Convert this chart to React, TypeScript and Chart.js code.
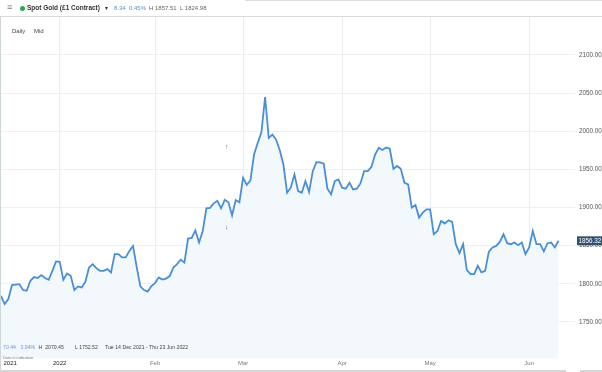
import React, { useEffect, useRef } from 'react';
import { Chart, registerables } from 'chart.js';

Chart.register(...registerables);

// Daily closes (6 sessions per week), Tue 14 Dec 2021 onwards
const prices = [
  1784.3, 1773.5, 1780.0, 1798.3, 1799.0, 1799.6, 1791.8, 1790.9, 1803.9, 1808.8,
  1807.5, 1811.4, 1807.5, 1805.2, 1817.0, 1829.3, 1828.7, 1805.2, 1813.6, 1810.5,
  1791.8, 1796.6, 1795.3, 1802.6, 1821.4, 1825.7, 1820.5, 1817.0, 1817.0, 1819.2,
  1814.9, 1838.8, 1838.8, 1834.5, 1834.5, 1843.1, 1849.6, 1821.8, 1796.6, 1791.8,
  1789.8, 1797.0, 1800.9, 1808.4, 1805.5, 1806.8, 1810.1, 1821.2, 1825.7, 1831.6,
  1827.7, 1859.3, 1860.1, 1869.9, 1854.1, 1869.2, 1898.9, 1899.5, 1905.4, 1908.7,
  1898.9, 1910.0, 1906.7, 1889.7, 1909.7, 1906.7, 1938.7, 1929.6, 1935.4, 1969.4,
  1984.7, 1998.5, 2044.8, 1991.2, 1995.5, 1989.0, 1975.0, 1956.3, 1919.4, 1925.9,
  1943.3, 1921.5, 1919.4, 1934.5, 1920.2, 1947.6, 1959.3, 1959.0, 1957.3, 1924.6,
  1917.2, 1934.5, 1936.7, 1925.9, 1924.6, 1932.4, 1923.7, 1924.6, 1931.5, 1947.6,
  1947.6, 1953.3, 1969.4, 1978.2, 1975.3, 1978.5, 1977.0, 1950.7, 1954.4, 1950.7,
  1932.4, 1930.2, 1899.8, 1903.2, 1886.7, 1893.3, 1897.6, 1897.6, 1864.9, 1869.2,
  1882.3, 1878.9, 1883.2, 1881.0, 1851.9, 1840.1, 1851.9, 1818.3, 1812.7, 1812.7,
  1823.5, 1814.9, 1817.0, 1841.8, 1847.6, 1849.6, 1854.9, 1864.9, 1853.2, 1851.9,
  1854.1, 1850.6, 1854.1, 1838.8, 1847.6, 1869.2, 1851.9, 1851.9, 1842.3, 1853.2,
  1854.1, 1847.6, 1856.32,
];

// session index at which each x-axis label sits
const xTickPositions = [2.5, 16, 42, 66, 93, 117, 144];
const xTickLabels = ['2021', '2022', 'Feb', 'Mar', 'Apr', 'May', 'Jun'];
const yTickValues = [1750, 1800, 1850, 1900, 1950, 2000, 2050, 2100];
const lastPrice = 1856.32;

const FONT = '"Liberation Sans", Arial, Helvetica, sans-serif';

const lastPricePlugin = {
  id: 'lastPriceBox',
  afterDraw(chart: any) {
    const ctx = chart.ctx;
    const y = chart.scales.y.getPixelForValue(lastPrice);
    const left = chart.chartArea.right + 2;
    ctx.save();
    ctx.fillStyle = '#33506f';
    ctx.fillRect(left, y - 4.5, chart.width - left, 9);
    ctx.fillStyle = '#ffffff';
    ctx.font = `6.3px ${FONT}`;
    ctx.textBaseline = 'middle';
    ctx.textAlign = 'left';
    ctx.fillText(lastPrice.toFixed(2), left + 1.5, y + 0.5);
    ctx.restore();
  },
};

const abs = (s: React.CSSProperties): React.CSSProperties => ({ position: 'absolute', ...s });

export default function App() {
  const ref = useRef<HTMLCanvasElement | null>(null);

  useEffect(() => {
    if (!ref.current) return;
    Chart.defaults.font.family = FONT;
    const chart = new Chart(ref.current, {
      type: 'line',
      data: {
        datasets: [
          {
            data: prices.map((v, i) => ({ x: i, y: v })),
            borderColor: '#4a8fd6',
            borderWidth: 1.8,
            backgroundColor: '#f3f8fd',
            fill: 'start',
            pointRadius: 0,
            tension: 0,
          },
        ],
      },
      options: {
        responsive: false,
        animation: false,
        events: [],
        layout: { padding: { top: 17, left: 1, right: 0, bottom: 4 } },
        plugins: { legend: { display: false }, tooltip: { enabled: false } },
        scales: {
          x: {
            type: 'linear',
            min: 0,
            max: 156.5,
            afterBuildTicks: (s: any) => {
              s.ticks = xTickPositions.map((v) => ({ value: v }));
            },
            ticks: {
              autoSkip: false,
              maxRotation: 0,
              padding: 1,
              font: { size: 6 },
              color: (c: any) => (c.index < 2 ? '#222222' : '#7a7a7a'),
              callback: (_v: any, i: number) => xTickLabels[i],
            },
            grid: {
              color: (c: any) => (c.index === 0 ? 'rgba(0,0,0,0)' : '#ececec'),
              drawTicks: false,
            },
            border: { display: false },
          },
          y: {
            position: 'right',
            min: 1701.7,
            max: 2149.6,
            afterBuildTicks: (s: any) => {
              s.ticks = yTickValues.map((v) => ({ value: v }));
            },
            afterFit: (s: any) => {
              s.width = 27;
            },
            ticks: {
              padding: 4,
              font: { size: 6.3 },
              color: '#555555',
              callback: (v: any) => Number(v).toFixed(2),
            },
            grid: { color: '#f0f0f0', drawTicks: false },
            border: { display: false },
          },
        },
      },
      plugins: [lastPricePlugin],
    } as any);
    return () => chart.destroy();
  }, []);

  const txt: React.CSSProperties = { fontFamily: FONT, whiteSpace: 'nowrap', lineHeight: 1 };

  return (
    <div style={abs({ left: 0, top: 0, width: 602, height: 372, background: '#ffffff', overflow: 'hidden' })}>
      <canvas ref={ref} width={602} height={372} style={abs({ left: 0, top: 0, width: 602, height: 372 })} />
      {/* header */}
      <div style={abs({ left: 245, top: 0, width: 357, height: 1, background: '#dedede' })} />
      <div style={abs({ left: 0, top: 16, width: 602, height: 1, background: '#d9d9d9' })} />
      <div style={abs({ left: 0, top: 17, width: 1, height: 353, background: '#cfd6da' })} />
      <div style={{ ...abs({ left: 7, top: 3 }), ...txt, fontSize: 9, color: '#7a7a7a' }}>≡</div>
      <div style={abs({ left: 20, top: 5.5, width: 5, height: 5, borderRadius: 3, background: '#2fa84f' })} />
      <div style={{ ...abs({ left: 27, top: 4.5 }), ...txt, fontSize: 6.5, fontWeight: 700, color: '#333333' }}>
        Spot Gold (£1 Contract)
      </div>
      <div style={{ ...abs({ left: 105, top: 4.5 }), ...txt, fontSize: 6, color: '#333333' }}>▾</div>
      <div style={{ ...abs({ left: 114, top: 5 }), ...txt, fontSize: 6, color: '#5f8fc9' }}>
        8.34&nbsp;&nbsp;0.45%
      </div>
      <div style={{ ...abs({ left: 149, top: 5 }), ...txt, fontSize: 6, color: '#666666' }}>
        H 1857.51&nbsp;&nbsp;L 1824.98
      </div>
      <div style={{ ...abs({ left: 12, top: 28 }), ...txt, fontSize: 6, color: '#444444' }}>Daily</div>
      <div style={{ ...abs({ left: 34, top: 28 }), ...txt, fontSize: 6, color: '#444444' }}>Mid</div>
      {/* markers */}
      <div style={{ ...abs({ left: 225, top: 143 }), ...txt, fontSize: 7, fontWeight: 700, color: '#6e6e6e' }}>↑</div>
      <div style={{ ...abs({ left: 225, top: 222.5 }), ...txt, fontSize: 7, fontWeight: 700, color: '#6e6e6e' }}>↓</div>
      {/* bottom stats */}
      <div style={{ ...abs({ left: 3, top: 345 }), ...txt, fontSize: 5.2, color: '#6b9bd2' }}>70.44</div>
      <div style={{ ...abs({ left: 20.5, top: 345 }), ...txt, fontSize: 5.2, color: '#6b9bd2' }}>3.94%</div>
      <div style={{ ...abs({ left: 38.5, top: 345 }), ...txt, fontSize: 5.2, color: '#444444' }}>H&nbsp;&nbsp;2070.45</div>
      <div style={{ ...abs({ left: 75, top: 345 }), ...txt, fontSize: 5.2, color: '#444444' }}>L 1752.52</div>
      <div style={{ ...abs({ left: 105, top: 345 }), ...txt, fontSize: 5.2, color: '#444444' }}>
        Tue 14 Dec 2021 - Thu 23 Jun 2022
      </div>
      <div style={{ ...abs({ left: 3, top: 355.5 }), ...txt, fontSize: 4, color: '#808080' }}>Data is indicative</div>
      {/* scrollbar strip */}
      <div style={abs({ left: 0, top: 370, width: 566, height: 2, background: '#d6d6d6' })} />
      <div style={abs({ left: 580, top: 370, width: 22, height: 2, background: '#d6d6d6' })} />
    </div>
  );
}
